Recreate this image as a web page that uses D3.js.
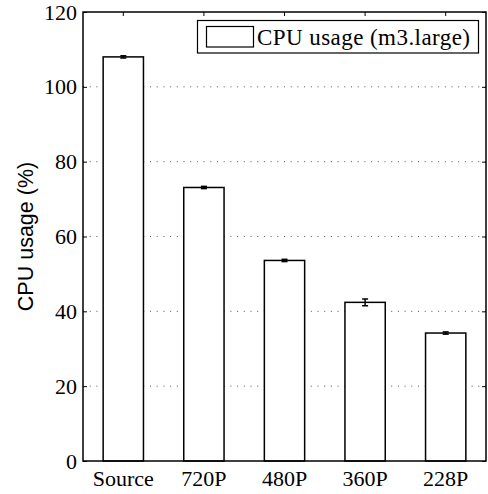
<!DOCTYPE html>
<html><head><meta charset="utf-8">
<script src="https://cdn.jsdelivr.net/npm/d3@7"></script>
<style>body{margin:0;background:#fff}</style>
</head><body>
<script>
const categories = ["Source", "720P", "480P", "360P", "228P"];
const values = [108.0, 73.1, 53.6, 42.4, 34.2];
const errors = [0.3, 0.3, 0.3, 0.9, 0.3];
const yTicks = [0, 20, 40, 60, 80, 100, 120];
const legendLabel = "CPU usage (m3.large)";
const yLabel = "CPU usage (%)";

const W = 488, H = 494;
const m = {left: 83, top: 12, right: 2, bottom: 33};
const serif = "'Liberation Serif','Times New Roman',serif";
const svg = d3.select("body").append("svg").attr("width", W).attr("height", H);
const x = d3.scaleBand().domain(categories).range([m.left, W - m.right]).paddingInner(0.5).paddingOuter(0.25);
const y = d3.scaleLinear().domain([0, 120]).range([H - m.bottom, m.top]);

// grid
svg.append("g").selectAll("line").data(yTicks.filter(t => t > 0 && t < 120)).join("line")
  .attr("x1", m.left).attr("x2", W - m.right)
  .attr("y1", d => y(d)).attr("y2", d => y(d))
  .attr("stroke", "#555").attr("stroke-width", 1).attr("stroke-dasharray", "1,5.7");

// bars
svg.append("g").selectAll("rect").data(values).join("rect")
  .attr("x", (d, i) => x(categories[i])).attr("width", x.bandwidth())
  .attr("y", d => y(d)).attr("height", d => y(0) - y(d))
  .attr("fill", "#fff").attr("stroke", "#000").attr("stroke-width", 1.5);

// error bars
const eg = svg.append("g").attr("stroke", "#000").attr("stroke-width", 1.5);
values.forEach((v, i) => {
  const cx = x(categories[i]) + x.bandwidth() / 2;
  eg.append("line").attr("x1", cx).attr("x2", cx).attr("y1", y(v - errors[i])).attr("y2", y(v + errors[i]));
  [v - errors[i], v + errors[i]].forEach(e => eg.append("line").attr("x1", cx - 3).attr("x2", cx + 3).attr("y1", y(e)).attr("y2", y(e)));
});

// frame
svg.append("rect").attr("x", m.left).attr("y", m.top).attr("width", W - m.right - m.left).attr("height", y(0) - m.top)
  .attr("fill", "none").attr("stroke", "#000").attr("stroke-width", 1.5);

// axes
const yAxis = svg.append("g").attr("transform", `translate(${m.left},0)`)
  .call(d3.axisLeft(y).tickValues(yTicks).tickSize(-4).tickPadding(6).tickFormat(d3.format("d")));
const xAxis = svg.append("g").attr("transform", `translate(0,${y(0)})`)
  .call(d3.axisBottom(x).tickSize(0).tickPadding(9));
const xTop = svg.append("g").attr("transform", `translate(0,${m.top})`)
  .call(d3.axisTop(x).tickSize(-4).tickFormat(""));
const yRight = svg.append("g").attr("transform", `translate(${W - m.right},0)`)
  .call(d3.axisRight(y).tickValues(yTicks).tickSize(-4).tickFormat(""));
[yAxis, xAxis, xTop, yRight].forEach(g => {
  g.attr("font-family", serif).attr("font-size", 22);
  g.select(".domain").remove();
  g.selectAll("line").attr("stroke", "#000").attr("stroke-width", 1);
  g.selectAll("text").attr("font-family", serif).attr("font-size", 22).attr("fill", "#000");
});
xAxis.selectAll("text").attr("dy", "0.71em");

// y label
svg.append("text").attr("transform", `translate(33,${(m.top + y(0)) / 2}) rotate(-90)`)
  .attr("text-anchor", "middle").attr("font-family", "'Liberation Sans',Arial,sans-serif").attr("font-size", 21.5)
  .text(yLabel);

// legend
const lg = svg.append("g");
lg.append("rect").attr("x", 197.5).attr("y", 20.5).attr("width", 281).attr("height", 32.5)
  .attr("fill", "#fff").attr("stroke", "#000").attr("stroke-width", 1.2);
lg.append("rect").attr("x", 206.5).attr("y", 26.5).attr("width", 47).attr("height", 20.5)
  .attr("fill", "#fff").attr("stroke", "#000").attr("stroke-width", 1.2);
lg.append("text").attr("x", 257).attr("y", 44.5).attr("font-family", serif)
  .attr("font-size", 23).attr("textLength", 213).text(legendLabel);
</script>
</body></html>
